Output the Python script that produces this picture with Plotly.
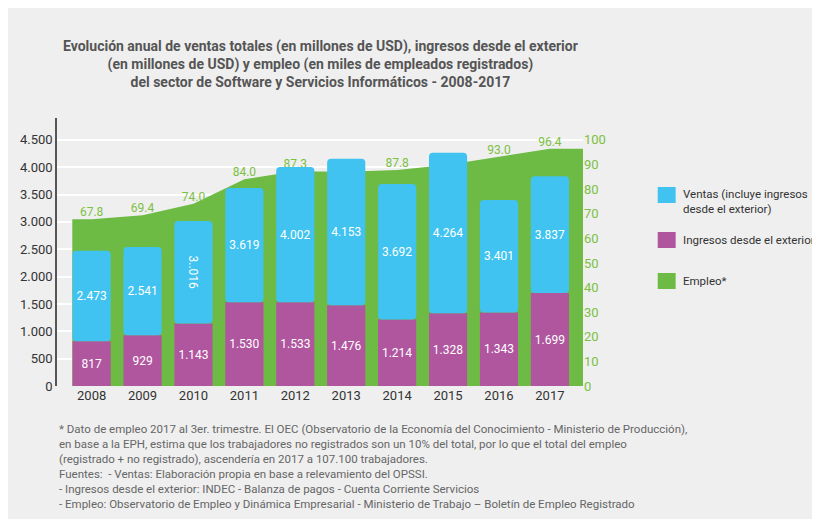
import plotly.graph_objects as go

years = [2008, 2009, 2010, 2011, 2012, 2013, 2014, 2015, 2016, 2017]
ventas = [2473, 2541, 3016, 3619, 4002, 4153, 3692, 4264, 3401, 3837]
ventas_labels = ["2.473", "2.541", "3..016", "3.619", "4.002", "4.153", "3.692", "4.264", "3.401", "3.837"]
ingresos = [817, 929, 1143, 1530, 1533, 1476, 1214, 1328, 1343, 1699]
ingresos_labels = ["817", "929", "1.143", "1.530", "1.533", "1.476", "1.214", "1.328", "1.343", "1.699"]
empleo = [67.8, 69.4, 74.0, 84.0, 87.3, 87.0, 87.8, 89.9, 93.0, 96.4]
left_ticks = [0, 500, 1000, 1500, 2000, 2500, 3000, 3500, 4000, 4500]
left_ticklabels = ["0", "500", "1.000", "1.500", "2.000", "2.500", "3.000", "3.500", "4.000", "4.500"]
right_ticks = [0, 10, 20, 30, 40, 50, 60, 70, 80, 90, 100]

FONT = "Roboto, sans-serif"
BLUE, PURPLE, GREEN, LGREEN = "#40c3f0", "#b0569f", "#6dbb45", "#7cc142"
BG = "#efefef"

XL, XR = 2007.32, 2017.65
YMAX = 4900
fig = go.Figure()

# area on the employment axis (y, right side), bars on sales axis (y2, left, overlaying)
ax = [years[0] - 0.38] + years + [XR]
ay = [empleo[0]] + empleo + [empleo[-1]]
fig.add_trace(go.Scatter(x=ax, y=ay, yaxis="y", mode="lines", fill="tozeroy",
                         line=dict(color=GREEN, width=0), fillcolor=GREEN, hoverinfo="skip"))
fig.add_trace(go.Scatter(x=years, y=empleo, yaxis="y", mode="text",
                         text=[f"{v:.1f}" for v in empleo], textposition="top center",
                         textfont=dict(family=FONT, size=12, color=LGREEN)))

fig.add_trace(go.Bar(x=years, y=ingresos, marker=dict(color=PURPLE, line_width=0), width=0.75,
                     text=ingresos_labels, textposition="inside", insidetextanchor="middle",
                     textfont=dict(family=FONT, size=12, color="white"), yaxis="y2"))
fig.add_trace(go.Bar(x=years, y=[v - i for v, i in zip(ventas, ingresos)], base=ingresos,
                     marker=dict(color=BLUE, line_width=0), width=0.75,
                     text=ventas_labels, textposition="inside", insidetextanchor="middle",
                     textfont=dict(family=FONT, size=12, color="white"), yaxis="y2"))

fig.update_layout(
    width=820, height=519, paper_bgcolor=BG, plot_bgcolor=BG, showlegend=False,
    barmode="overlay", barcornerradius=4,
    margin=dict(l=47, r=245, t=110, b=141),
    font=dict(family=FONT, color="#333"),
    xaxis=dict(range=[XL, XR], tickvals=years, showgrid=False, zeroline=False,
               tickfont=dict(size=13, color="#333"), ticks=""),
    yaxis=dict(range=[0, YMAX / 45], tickvals=right_ticks, side="right",
               showgrid=False, zeroline=False, tickfont=dict(size=13, color=LGREEN)),
    yaxis2=dict(range=[0, YMAX], tickvals=left_ticks, ticktext=left_ticklabels,
                overlaying="y", side="left",
                gridcolor="white", gridwidth=1.5, zeroline=False, showline=True,
                linecolor="#555", linewidth=1.5, tickfont=dict(size=13, color="#333")),
)

fig.add_annotation(x=0.5, y=1.0, xref="paper", yref="paper", yshift=82, showarrow=False,
                   text="<b>Evolución anual de ventas totales (en millones de USD), ingresos desde el exterior<br>"
                        "(en millones de USD) y empleo (en miles de empleados registrados)<br>"
                        "del sector de Software y Servicios Informáticos - 2008-2017</b>",
                   font=dict(family=FONT, size=14, color="#555"), align="center", yanchor="top")

# legend
leg = [(BLUE, "Ventas (incluye ingresos<br>desde el exterior)", 187),
       (PURPLE, "Ingresos desde el exterior", 232),
       (GREEN, "Empleo*", 273)]
for col, txt, py in leg:
    fig.add_shape(type="rect", xref="paper", yref="paper",
                  x0=(650 - 47) / 528, x1=(668 - 47) / 528,
                  y0=(378 - py - 8) / 268, y1=(378 - py + 8) / 268,
                  fillcolor=col, line_width=0)
    fig.add_annotation(x=(673 - 47) / 528, y=(378 - (py + (6 if "<br>" in txt else 0))) / 268,
                       xref="paper", yref="paper", showarrow=False, xanchor="left", yanchor="middle",
                       text=txt, align="left", font=dict(family=FONT, size=11.5, color="#333"))

foot = ("* Dato de empleo 2017 al 3er. trimestre. El OEC (Observatorio de la Economía del Conocimiento - Ministerio de Producción),<br>"
        "en base a la EPH, estima que los trabajadores no registrados son un 10% del total, por lo que el total del empleo<br>"
        "(registrado + no registrado), ascendería en 2017 a 107.100 trabajadores.<br>"
        "Fuentes:  - Ventas: Elaboración propia en base a relevamiento del OPSSI.<br>"
        "- Ingresos desde el exterior: INDEC - Balanza de pagos - Cuenta Corriente Servicios<br>"
        "- Empleo: Observatorio de Empleo y Dinámica Empresarial - Ministerio de Trabajo – Boletín de Empleo Registrado")
fig.add_annotation(x=0, y=(378 - 412) / 268, xref="paper", yref="paper", showarrow=False,
                   xanchor="left", yanchor="top", align="left", text=foot,
                   font=dict(family=FONT, size=11.5, color="#666"))

fig.write_html("out.html")
